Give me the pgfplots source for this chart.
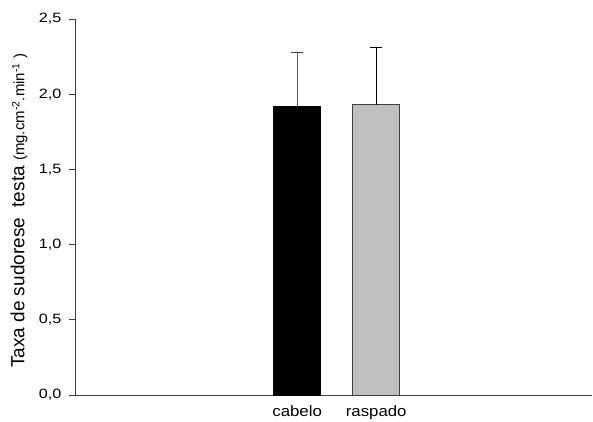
\documentclass[border=0pt]{standalone}
\usepackage{pgfplots}
\pgfplotsset{compat=1.18}
\usepackage{fontspec}
\setmainfont{Liberation Sans}
\newfontfamily\tickfont[FakeStretch=1.12]{Liberation Sans}
\newfontfamily\numfont[FakeStretch=1.2]{Liberation Sans}
\definecolor{axisgray}{RGB}{64,64,64}
\definecolor{barlight}{RGB}{192,192,192}
\begin{document}
\begin{tikzpicture}[x=1pt,y=1pt]
\path[use as bounding box] (0,0) rectangle (593,421);
\begin{axis}[
  at={(75pt,26pt)}, anchor=south west,
  scale only axis,
  width=517pt, height=376pt,
  xmin=-2.81, xmax=3.73,
  ymin=0, ymax=2.5,
  axis x line=bottom, axis y line=left,
  axis line style={-, axisgray, line width=0.9pt},
  xtick={0,1}, xticklabels={cabelo,raspado},
  x tick style={draw=none},
  xticklabel style={font=\tickfont\fontsize{15}{17}\selectfont, yshift=-1pt},
  ytick={0,0.5,1,1.5,2,2.5},
  yticklabels={{0,0},{0,5},{1,0},{1,5},{2,0},{2,5}},
  y tick style={axisgray, line width=0.9pt},
  tick align=outside, major tick length=6pt,
  yticklabel style={font=\numfont\fontsize{13.5}{16}\selectfont, xshift=-4pt},
  ylabel={\fontsize{19}{22}\selectfont Taxa de sudorese\ \ testa {\fontsize{15}{17}\selectfont(mg.cm\textsuperscript{-2}.min\textsuperscript{-1} )}},
  ylabel style={at={(axis description cs:-0.108,0.49)}, anchor=center},
  ybar, bar width=47pt,
]
\addplot[fill=black, draw=black, bar shift=0pt,
  error bars/.cd, y dir=plus, y explicit,
  error bar style={gray!70!black, line width=1pt},
  error mark options={rotate=90, gray!50!black, mark size=6pt, line width=1pt}]
  coordinates {(0,1.92) +- (0,0.36)};
\addplot[fill=barlight, draw=black!75, line width=0.8pt, bar shift=0pt,
  error bars/.cd, y dir=plus, y explicit,
  error bar style={black, line width=1pt},
  error mark options={rotate=90, black, mark size=6pt, line width=1pt}]
  coordinates {(1,1.93) +- (0,0.38)};
\end{axis}
\end{tikzpicture}
\end{document}
